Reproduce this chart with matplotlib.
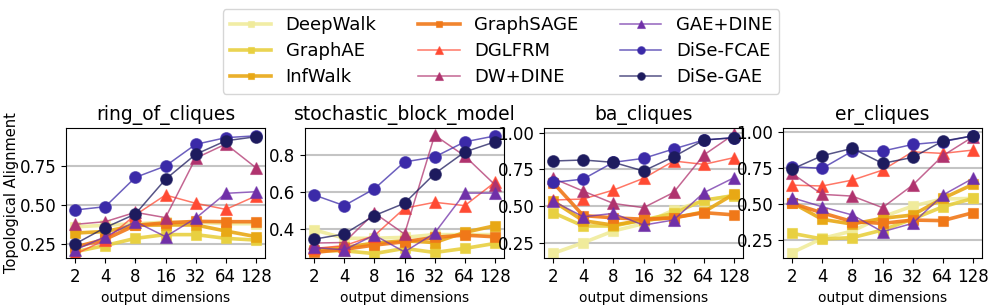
import numpy as np
import matplotlib
matplotlib.use("Agg")
import matplotlib.pyplot as plt
from matplotlib.colors import to_rgba

dims = [2, 4, 8, 16, 32, 64, 128]
methods = ["DeepWalk", "GraphAE", "InfWalk", "GraphSAGE", "DGLFRM",
           "DW+DINE", "GAE+DINE", "DiSe-FCAE", "DiSe-GAE"]
colors = ["#f0eb9b", "#e8d040", "#e8a815", "#f07818", "#ff4a33",
          "#b0336e", "#7030a8", "#3b2aa8", "#1d1b5e"]
markers = ["s", "s", "s", "s", "^", "^", "^", "o", "o"]
titles = ["ring_of_cliques", "stochastic_block_model", "ba_cliques", "er_cliques"]

ring = {
    "DeepWalk":  [0.36, 0.37, 0.38, 0.39, 0.39, 0.38, 0.38],
    "GraphAE":   [0.20, 0.24, 0.286, 0.31, 0.31, 0.286, 0.275],
    "InfWalk":   [0.32, 0.33, 0.37, 0.372, 0.372, 0.333, 0.297],
    "GraphSAGE": [0.23, 0.28, 0.37, 0.385, 0.395, 0.393, 0.393],
    "DGLFRM":    [0.184, 0.276, 0.436, 0.564, 0.511, 0.472, 0.558],
    "DW+DINE":   [0.376, 0.393, 0.453, 0.419, 0.80, 0.891, 0.739],
    "GAE+DINE":  [0.211, 0.297, 0.393, 0.297, 0.415, 0.575, 0.585],
    "DiSe-FCAE": [0.468, 0.489, 0.677, 0.75, 0.889, 0.932, 0.944],
    "DiSe-GAE":  [0.25, 0.355, 0.442, 0.665, 0.825, 0.912, 0.938],
}
sbm = {
    "DeepWalk":  [0.396, 0.35, 0.35, 0.355, 0.37, 0.37, 0.37],
    "GraphAE":   [0.282, 0.282, 0.267, 0.295, 0.273, 0.295, 0.322],
    "InfWalk":   [0.287, 0.30, 0.324, 0.336, 0.327, 0.382, 0.418],
    "GraphSAGE": [0.273, 0.29, 0.313, 0.331, 0.355, 0.367, 0.358],
    "DGLFRM":    [0.295, 0.31, 0.364, 0.513, 0.545, 0.527, 0.654],
    "DW+DINE":   [0.324, 0.327, 0.487, 0.373, 0.909, 0.796, 0.64],
    "GAE+DINE":  [0.30, 0.287, 0.367, 0.276, 0.378, 0.595, 0.595],
    "DiSe-FCAE": [0.585, 0.527, 0.618, 0.764, 0.791, 0.873, 0.905],
    "DiSe-GAE":  [0.345, 0.373, 0.473, 0.54, 0.70, 0.818, 0.873],
}
ba = {
    "DeepWalk":  [0.177, 0.25, 0.33, 0.38, 0.473, 0.534, 0.575],
    "GraphAE":   [0.455, 0.364, 0.364, 0.405, 0.45, 0.541, 0.57],
    "InfWalk":   [0.534, 0.40, 0.37, 0.405, 0.42, 0.46, 0.582],
    "GraphSAGE": [0.66, 0.435, 0.42, 0.41, 0.42, 0.455, 0.44],
    "DGLFRM":    [0.541, 0.548, 0.609, 0.689, 0.807, 0.784, 0.83],
    "DW+DINE":   [0.689, 0.602, 0.518, 0.489, 0.593, 0.848, 0.989],
    "GAE+DINE":  [0.534, 0.427, 0.45, 0.37, 0.405, 0.591, 0.693],
    "DiSe-FCAE": [0.661, 0.684, 0.798, 0.825, 0.889, 0.95, 0.966],
    "DiSe-GAE":  [0.807, 0.814, 0.798, 0.739, 0.836, 0.95, 0.966],
}
er = {
    "DeepWalk":  [0.162, 0.261, 0.312, 0.41, 0.485, 0.534, 0.538],
    "GraphAE":   [0.296, 0.257, 0.266, 0.319, 0.395, 0.48, 0.538],
    "InfWalk":   [0.508, 0.393, 0.36, 0.40, 0.423, 0.538, 0.635],
    "GraphSAGE": [0.504, 0.438, 0.377, 0.365, 0.388, 0.384, 0.439],
    "DGLFRM":    [0.63, 0.624, 0.665, 0.734, 0.861, 0.85, 0.873],
    "DW+DINE":   [0.711, 0.566, 0.554, 0.474, 0.63, 0.834, 0.965],
    "GAE+DINE":  [0.543, 0.48, 0.423, 0.307, 0.365, 0.561, 0.677],
    "DiSe-FCAE": [0.758, 0.746, 0.866, 0.866, 0.912, 0.931, 0.972],
    "DiSe-GAE":  [0.741, 0.834, 0.885, 0.781, 0.822, 0.935, 0.972],
}
datasets = [ring, sbm, ba, er]
ylims = [(0.16, 0.994), (0.243, 0.948), (0.146, 1.032), (0.125, 1.026)]
yticks = [[0.25, 0.5, 0.75], [0.4, 0.6, 0.8], [0.25, 0.5, 0.75, 1.0], [0.25, 0.5, 0.75, 1.0]]

W, H = 996, 308
fig = plt.figure(figsize=(W / 100, H / 100), dpi=100)
lefts = [66, 305, 544, 783]

handles = []
for k, data in enumerate(datasets):
    ax = fig.add_axes([lefts[k] / W, 50 / H, 199 / W, 130 / H])
    for m, c, mk in zip(methods, colors, markers):
        if mk == "s":
            lw, ms, la = 2.6, 7, 0.9
        else:
            lw, ms, la = 1.1, 9 if mk == "^" else 8.5, 0.75
        ln, = ax.plot(dims, data[m], color=to_rgba(c, la), lw=lw, marker=mk,
                      ms=ms, mfc=c, mec=to_rgba(c, 0.6), mew=0.8, label=m)
        if k == 0:
            handles.append(ln)
    ax.set_xscale("log", base=2)
    ax.set_xticks(dims, [str(d) for d in dims])
    ax.minorticks_off()
    ax.set_ylim(*ylims[k])
    ax.set_yticks(yticks[k])
    ax.tick_params(labelsize=12)
    ax.grid(axis="y", color="#c4c4c4", lw=1.5)
    ax.set_axisbelow(True)
    ax.set_title(titles[k], fontsize=13.5)
    ax.set_xlabel("output dimensions", fontsize=10)
    if k == 0:
        ax.set_ylabel("Topological Alignment", fontsize=10.5, labelpad=0)

fig.legend(handles=handles, loc="upper center", bbox_to_anchor=(0.503, 1.0),
           ncol=3, fontsize=13, markerscale=0.65, handlelength=2.3,
           columnspacing=2.3, labelspacing=0.45)

fig.savefig("out.png", dpi=100)
